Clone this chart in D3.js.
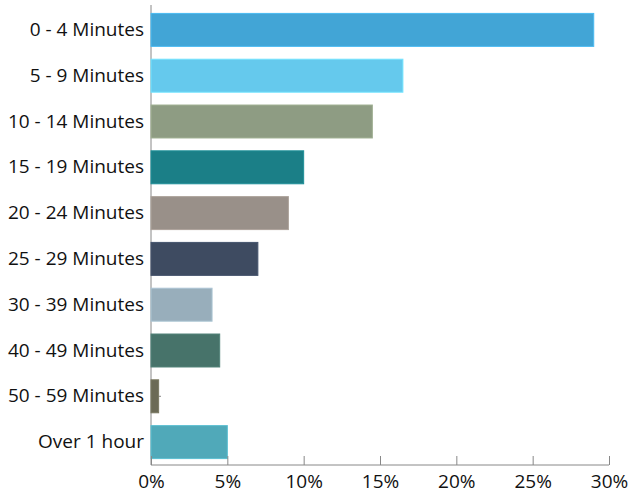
<!DOCTYPE html>
<html>
<head>
<meta charset="utf-8">
<script src="https://cdn.jsdelivr.net/npm/d3@7"></script>
<style>
  html, body { margin: 0; padding: 0; background: #fff; }
  svg text { font-family: "Open Sans", "Noto Sans", sans-serif; fill: #111; }
</style>
</head>
<body>
<svg id="chart" width="631" height="495"></svg>
<script>
// Share of respondents by time band
const categories = ["0 - 4 Minutes", "5 - 9 Minutes", "10 - 14 Minutes", "15 - 19 Minutes",
  "20 - 24 Minutes", "25 - 29 Minutes", "30 - 39 Minutes", "40 - 49 Minutes",
  "50 - 59 Minutes", "Over 1 hour"];
const values = [29, 16.5, 14.5, 10, 9, 7, 4, 4.5, 0.5, 5];
const colors = ["#42a5d6", "#65c9ed", "#8e9c83", "#1b7f87", "#999089", "#3e4b61",
  "#98aebb", "#47736a", "#6b6a56", "#50a9b9"];
const xTicks = [0, 5, 10, 15, 20, 25, 30];

const svg = d3.select("#chart");
const plotLeft = 151, plotRight = 609, plotTop = 7, plotBottom = 465, axisTop = 5;

const x = d3.scaleLinear().domain([0, 30]).range([plotLeft, plotRight]);
const y = d3.scaleBand().domain(categories).range([plotTop, plotBottom])
  .paddingInner(0.28).paddingOuter(0.14);

// category axis with inward ticks
const yAxis = svg.append("g")
  .attr("transform", `translate(${plotLeft},0)`)
  .call(d3.axisLeft(y).tickSize(-10).tickPadding(7));
yAxis.select(".domain").attr("stroke", "#888").attr("d", `M0,${axisTop}V${plotBottom}`);
yAxis.selectAll(".tick line").attr("stroke", "#888");
yAxis.selectAll(".tick text").attr("font-size", 19).attr("fill", "#111");

// bars
svg.append("g").selectAll("rect")
  .data(categories)
  .join("rect")
  .attr("x", x(0))
  .attr("y", d => y(d))
  .attr("width", (d, i) => x(values[i]) - x(0))
  .attr("height", y.bandwidth())
  .attr("fill", (d, i) => colors[i])
  .attr("stroke", (d, i) => d3.color(colors[i]).brighter(0.35))
  .attr("stroke-width", 1);

// value axis with upward ticks
const xAxis = svg.append("g")
  .attr("transform", `translate(0,${plotBottom})`)
  .call(d3.axisBottom(x).tickValues(xTicks).tickFormat(d => d + "%").tickSize(-9).tickPadding(10));
xAxis.select(".domain").attr("stroke", "#888").attr("d", `M${plotLeft},0H${plotRight}`);
xAxis.selectAll(".tick line").attr("stroke", "#888");
xAxis.selectAll(".tick text").attr("font-size", 19).attr("fill", "#111");
</script>
</body>
</html>
